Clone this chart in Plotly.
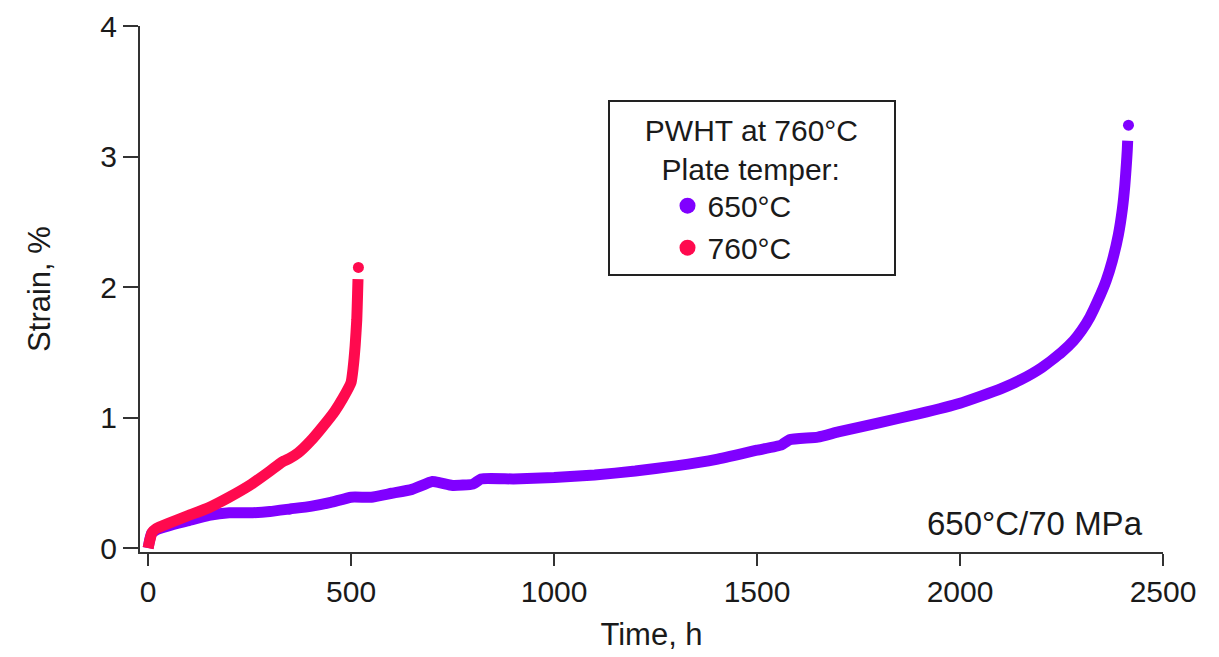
import plotly.graph_objects as go

# 650 °C plate temper (purple): creep curve and rupture point
t_650 = [0, 3, 8, 20, 50, 100, 150, 200, 250, 300, 350, 400, 450, 500, 550, 600, 650, 700, 720,
         750, 800, 820, 900, 1000, 1100, 1200, 1300, 1400, 1500, 1560, 1580, 1650, 1700, 1800,
         1900, 2000, 2100, 2150, 2200, 2250, 2280, 2300, 2320, 2340, 2360, 2375, 2390, 2400,
         2406, 2410, 2412, 2413]
s_650 = [0, 0.05, 0.11, 0.14, 0.17, 0.21, 0.25, 0.27, 0.27, 0.28, 0.30, 0.32, 0.35, 0.39, 0.39,
         0.42, 0.45, 0.51, 0.50, 0.48, 0.49, 0.53, 0.53, 0.54, 0.56, 0.59, 0.63, 0.68, 0.75, 0.79,
         0.83, 0.85, 0.89, 0.96, 1.03, 1.11, 1.22, 1.29, 1.38, 1.50, 1.59, 1.67, 1.77, 1.90, 2.05,
         2.20, 2.40, 2.60, 2.78, 2.95, 3.05, 3.12]
t_650_rupture = [2415]
s_650_rupture = [3.24]

# 760 °C plate temper (red): creep curve and rupture point
t_760 = [0, 2, 5, 10, 20, 50, 100, 150, 200, 250, 300, 330, 350, 370, 400, 430, 460, 480, 500,
         505, 510, 514, 516, 517]
s_760 = [0, 0.03, 0.07, 0.12, 0.15, 0.19, 0.25, 0.31, 0.39, 0.48, 0.59, 0.66, 0.69, 0.73, 0.82,
         0.93, 1.05, 1.15, 1.27, 1.38, 1.55, 1.75, 1.95, 2.06]
t_760_rupture = [518]
s_760_rupture = [2.15]

series_names = ["650°C", "760°C"]
colors = ["#8000FF", "#FF0A4E"]

x_ticks = [0, 500, 1000, 1500, 2000, 2500]
y_ticks = [0, 1, 2, 3, 4]

FONT = "Arial, Liberation Sans, sans-serif"
TXT = "#1a1a1a"
AX = "#333333"
NB = "\u00a0"

fig = go.Figure()
series = [
    (series_names[0], t_650, s_650, t_650_rupture, s_650_rupture, colors[0]),
    (series_names[1], t_760, s_760, t_760_rupture, s_760_rupture, colors[1]),
]
for name, t, s, tr, sr, c in series:
    fig.add_trace(go.Scatter(
        x=t, y=s, name=name, mode="lines", showlegend=False, legendgroup=name,
        line=dict(color=c, width=11, shape="spline", smoothing=0.4),
    ))
    fig.add_trace(go.Scatter(
        x=tr, y=sr, name=name, mode="markers", showlegend=False, legendgroup=name,
        marker=dict(color=c, size=11, symbol="circle"),
    ))
# legend-only entries (large circular symbols, no data)
for name, c in zip(series_names, colors):
    fig.add_trace(go.Scatter(
        x=[None], y=[None], name=name, mode="markers", legendgroup=name,
        marker=dict(color=c, size=16, symbol="circle"),
    ))

fig.update_layout(
    width=1219, height=657,
    margin=dict(l=132, r=64, t=18, b=113),
    paper_bgcolor="white", plot_bgcolor="white",
    font=dict(family=FONT, size=30, color=TXT),
    showlegend=True,
    legend=dict(
        x=0.457, y=0.86, xanchor="left", yanchor="top",
        bgcolor="white", bordercolor="#222", borderwidth=2,
        font=dict(size=30, color=TXT),
        title=dict(text=f"{NB*4}PWHT at 760°C{NB*4}<br>{NB*6}Plate temper:",
                   side="top", font=dict(size=30, color=TXT)),
        indentation=58,
        itemsizing="trace",
        tracegroupgap=0,
    ),
    xaxis=dict(
        range=[-20, 2500], tickvals=x_ticks, ticktext=[str(v) for v in x_ticks],
        showgrid=False, zeroline=False, showline=True, linecolor=AX, linewidth=2,
        ticks="outside", ticklen=12, tickwidth=2, tickcolor=AX, automargin=False,
        ticklabeloverflow="allow",
        tickfont=dict(size=30, color=TXT),
        title=dict(text="Time, h", font=dict(size=31, color=TXT), standoff=16),
    ),
    yaxis=dict(
        range=[-0.03, 4], tickvals=y_ticks, ticktext=[str(v) for v in y_ticks],
        showgrid=False, zeroline=False, showline=True, linecolor=AX, linewidth=2,
        ticks="outside", ticklen=15, tickwidth=2, tickcolor=AX, automargin=False,
        ticklabeloverflow="allow",
        tickfont=dict(size=30, color=TXT),
        title=dict(text="Strain, %", font=dict(size=31, color=TXT), standoff=40),
    ),
    annotations=[dict(
        text="650°C/70 MPa", xref="paper", yref="paper", x=0.982, y=0.0545,
        xanchor="right", yanchor="middle", showarrow=False,
        font=dict(size=33, color=TXT),
    )],
)

fig.write_html("out.html")
